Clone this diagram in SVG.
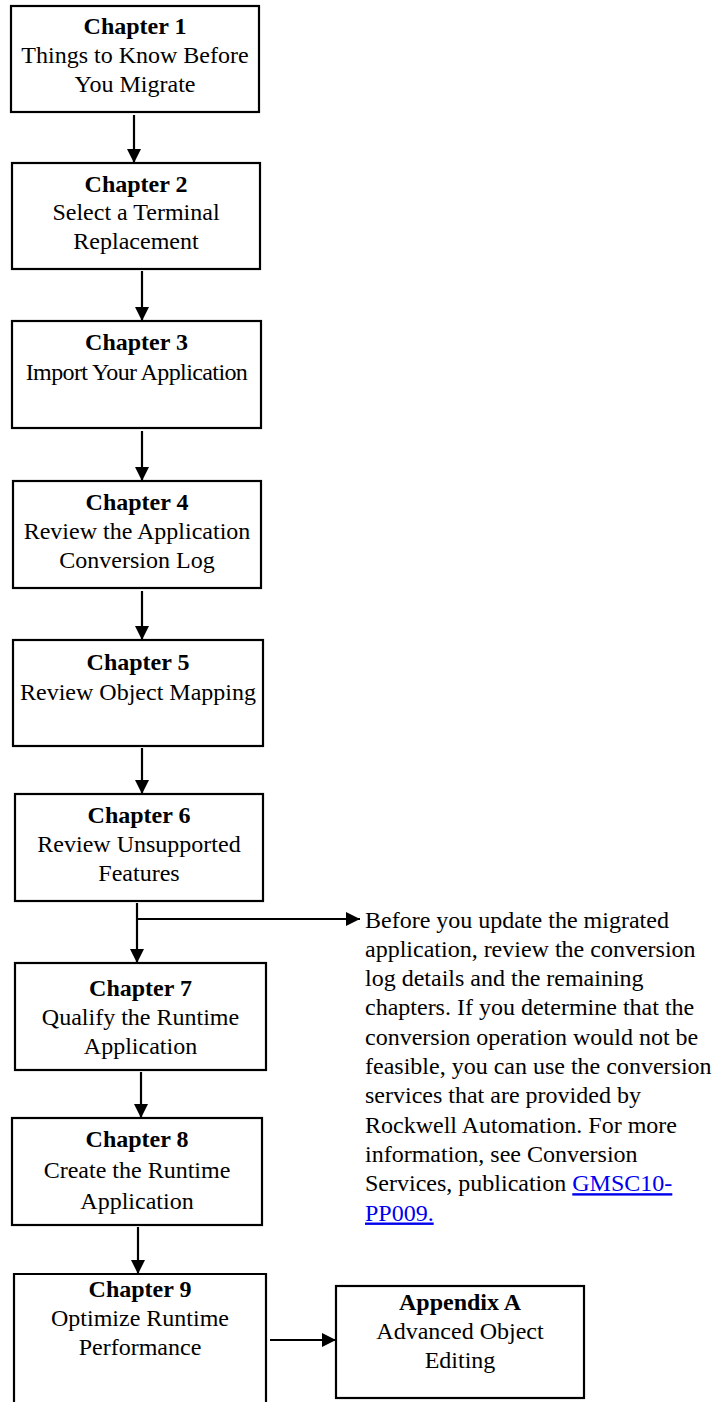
<svg xmlns="http://www.w3.org/2000/svg" width="717" height="1402" viewBox="0 0 717 1402">
<style>
.box{fill:#fff;stroke:#000;stroke-width:2.2}
.t{font-family:"Liberation Serif","Times New Roman",serif;font-size:24px;fill:#000;text-anchor:middle}
.b{font-weight:bold}
.c{stroke:#000;stroke-width:2.2;fill:none}
.note{font-family:"Liberation Serif","Times New Roman",serif;font-size:24px;fill:#000}
.link{fill:#0000EE;text-decoration:underline}
</style>
<defs>
<marker id="ah" markerUnits="userSpaceOnUse" markerWidth="14" markerHeight="14" refX="14" refY="7" orient="auto">
<path d="M0,0 L14,7 L0,14 Z" fill="#000"/>
</marker>
</defs>
<rect width="717" height="1402" fill="#fff"/>
<g id="connectors">
<line class="c" x1="134" y1="115" x2="134" y2="163" marker-end="url(#ah)"/>
<line class="c" x1="142" y1="271" x2="142" y2="321" marker-end="url(#ah)"/>
<line class="c" x1="142" y1="431" x2="142" y2="481" marker-end="url(#ah)"/>
<line class="c" x1="142" y1="591" x2="142" y2="640" marker-end="url(#ah)"/>
<line class="c" x1="142" y1="748" x2="142" y2="794" marker-end="url(#ah)"/>
<line class="c" x1="137" y1="903" x2="137" y2="963" marker-end="url(#ah)"/>
<line class="c" x1="137" y1="919" x2="360" y2="919" marker-end="url(#ah)"/>
<line class="c" x1="141" y1="1072" x2="141" y2="1118" marker-end="url(#ah)"/>
<line class="c" x1="138" y1="1227" x2="138" y2="1274" marker-end="url(#ah)"/>
<line class="c" x1="270" y1="1340" x2="336" y2="1340" marker-end="url(#ah)"/>
</g>
<g id="ch1">
<rect class="box" x="11" y="6" width="248" height="106"/>
<text class="t b" x="135" y="34">Chapter 1</text>
<text class="t" x="135" y="63">Things to Know Before</text>
<text class="t" x="135" y="92">You Migrate</text>
</g>
<g id="ch2">
<rect class="box" x="12" y="163" width="248" height="106"/>
<text class="t b" x="136" y="192">Chapter 2</text>
<text class="t" x="136" y="220">Select a Terminal</text>
<text class="t" x="136" y="249">Replacement</text>
</g>
<g id="ch3">
<rect class="box" x="12" y="321" width="249" height="107"/>
<text class="t b" x="136.5" y="350">Chapter 3</text>
<text class="t" x="136.5" y="380" letter-spacing="-0.6">Import Your Application</text>
</g>
<g id="ch4">
<rect class="box" x="13" y="481" width="248" height="107"/>
<text class="t b" x="137" y="510">Chapter 4</text>
<text class="t" x="137" y="539">Review the Application</text>
<text class="t" x="137" y="568">Conversion Log</text>
</g>
<g id="ch5">
<rect class="box" x="13" y="640" width="250" height="106"/>
<text class="t b" x="138" y="670">Chapter 5</text>
<text class="t" x="138" y="700">Review Object Mapping</text>
</g>
<g id="ch6">
<rect class="box" x="15" y="794" width="248" height="107"/>
<text class="t b" x="139" y="823">Chapter 6</text>
<text class="t" x="139" y="852">Review Unsupported</text>
<text class="t" x="139" y="881">Features</text>
</g>
<g id="ch7">
<rect class="box" x="15" y="963" width="251" height="107"/>
<text class="t b" x="140.5" y="996">Chapter 7</text>
<text class="t" x="140.5" y="1025">Qualify the Runtime</text>
<text class="t" x="140.5" y="1054">Application</text>
</g>
<g id="ch8">
<rect class="box" x="12" y="1118" width="250" height="107"/>
<text class="t b" x="137" y="1147">Chapter 8</text>
<text class="t" x="137" y="1178">Create the Runtime</text>
<text class="t" x="137" y="1209">Application</text>
</g>
<g id="ch9">
<path class="box" d="M14,1410 L14,1274 L266,1274 L266,1410"/>
<text class="t b" x="140" y="1297">Chapter 9</text>
<text class="t" x="140" y="1326">Optimize Runtime</text>
<text class="t" x="140" y="1355">Performance</text>
</g>
<g id="appA">
<rect class="box" x="336" y="1286" width="248" height="112"/>
<text class="t b" x="460" y="1310">Appendix A</text>
<text class="t" x="460" y="1339">Advanced Object</text>
<text class="t" x="460" y="1368">Editing</text>
</g>
<g id="note">
<text class="note" x="365" y="927.5">Before you update the migrated</text>
<text class="note" x="365" y="956.8">application, review the conversion</text>
<text class="note" x="365" y="986.1">log details and the remaining</text>
<text class="note" x="365" y="1015.4">chapters. If you determine that the</text>
<text class="note" x="365" y="1044.7">conversion operation would not be</text>
<text class="note" x="365" y="1074">feasible, you can use the conversion</text>
<text class="note" x="365" y="1103.3">services that are provided by</text>
<text class="note" x="365" y="1132.6">Rockwell Automation. For more</text>
<text class="note" x="365" y="1161.9">information, see Conversion</text>
<text class="note" x="365" y="1191.2">Services, publication <tspan class="link">GMSC10-</tspan></text>
<text class="note" x="365" y="1220.5"><tspan class="link">PP009.</tspan></text>
</g>
</svg>
